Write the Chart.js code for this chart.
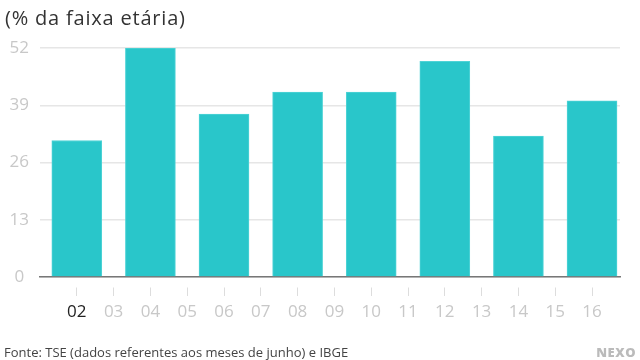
<!DOCTYPE html>
<html>
<head>
<meta charset="utf-8">
<script src="https://cdn.jsdelivr.net/npm/chart.js@4/dist/chart.umd.min.js"></script>
<style>
  body { margin: 0; background: #fff; font-family: "Open Sans", sans-serif; }
  #wrap { position: relative; width: 640px; height: 360px; }
  #chart { position: absolute; left: 0; top: 0; }
  .title { position: absolute; left: 5px; top: 4px; font-size: 20px; color: #333; letter-spacing: 0.8px; }
  .source { position: absolute; left: 4px; top: 343px; font-size: 13px; color: #444; }
  .logo { position: absolute; right: 4px; top: 343px; font-size: 13px; font-weight: 800; color: #bbb; letter-spacing: 0.5px; }
</style>
</head>
<body>
<div id="wrap">
  <canvas id="chart" width="640" height="360"></canvas>
  <div class="title">(% da faixa etária)</div>
  <div class="source">Fonte: TSE (dados referentes aos meses de junho) e IBGE</div>
  <div class="logo">NEXO</div>
</div>
<script>
// ================================
// DATA
// ================================
const tickYears = [2, 3, 4, 5, 6, 7, 8, 9, 10, 11, 12, 13, 14, 15, 16];
const barYears = [2, 4, 6, 8, 10, 12, 14, 16];
const values = [31, 52, 37, 42, 42, 49, 32, 40];
const yTicks = [0, 13, 26, 39, 52];

const TEAL = "#29c6ca";
const FONT = "'Open Sans', sans-serif";

// ================================
// CHART
// ================================
new Chart(document.getElementById("chart"), {
  type: "bar",
  data: {
    datasets: [{
      data: barYears.map((y, i) => ({ x: y, y: values[i] })),
      backgroundColor: TEAL,
      borderColor: "#4fd3d6",
      borderWidth: 1,
      barThickness: 50
    }]
  },
  options: {
    responsive: false,
    animation: false,
    events: [],
    layout: { padding: { top: 48, right: 20, left: 0, bottom: 33 } },
    plugins: { legend: { display: false }, tooltip: { enabled: false } },
    scales: {
      x: {
        type: "linear",
        offset: false,
        min: 1,
        max: 16.76,
        afterBuildTicks: s => { s.ticks = tickYears.map(v => ({ value: v })); },
        afterFit: s => { s.height = 50; },
        border: { display: true, color: "#777", width: 1.5 },
        grid: {
          offset: false,
          drawOnChartArea: false,
          drawTicks: true,
          tickLength: 19,
          tickColor: "#ddd",
          tickWidth: 1,
          tickBorderDash: [0, 10, 9, 100]
        },
        ticks: {
          autoSkip: false,
          maxRotation: 0,
          padding: 6,
          font: { family: FONT, size: 17 },
          color: c => c.index === 0 ? "#222" : "#c8c8c8",
          callback: v => String(v).padStart(2, "0")
        }
      },
      y: {
        min: 0,
        max: 52,
        afterBuildTicks: s => { s.ticks = yTicks.map(v => ({ value: v })); },
        afterFit: s => { s.width = 40; },
        border: { display: false },
        grid: { color: "#e6e6e6", lineWidth: 1.5, drawTicks: false },
        ticks: {
          crossAlign: "center",
          padding: 11,
          font: { family: FONT, size: 17 },
          color: "#c8c8c8"
        }
      }
    }
  }
});
</script>
</body>
</html>
